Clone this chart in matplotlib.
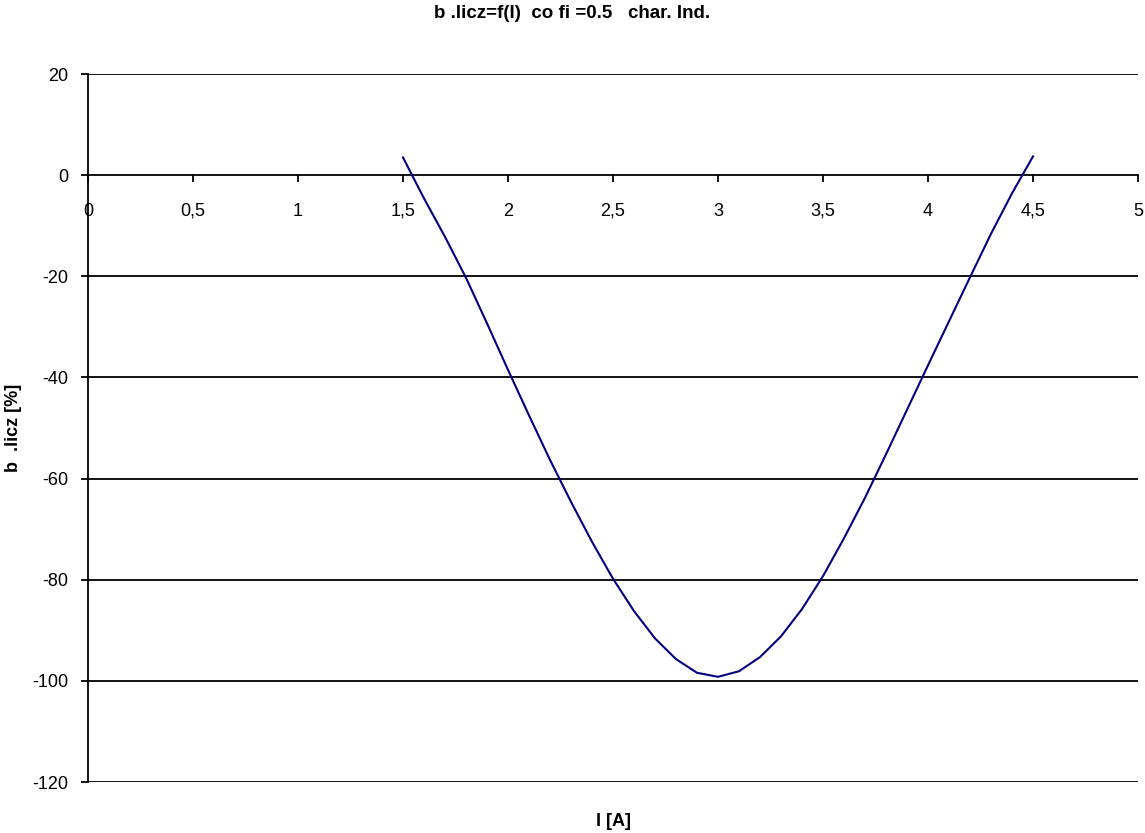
import matplotlib
matplotlib.use("Agg")
import matplotlib.pyplot as plt
from matplotlib.ticker import FixedLocator, FuncFormatter

# Data
current_A = [1.5, 1.6, 1.7, 1.8, 1.9, 2.0, 2.1, 2.2, 2.3, 2.4, 2.5, 2.6, 2.7, 2.8,
             2.9, 3.0, 3.1, 3.2, 3.3, 3.4, 3.5, 3.6, 3.7, 3.8, 3.9, 4.0, 4.1, 4.2,
             4.3, 4.4, 4.5]
b_licz = [3.5, -4.6, -12.2, -20.3, -29.3, -38.5, -47.5, -56.3, -64.6, -72.5, -79.8,
          -86.2, -91.6, -95.7, -98.4, -99.2, -98.1, -95.3, -91.2, -85.8, -79.3,
          -71.8, -63.8, -55.2, -46.4, -37.6, -28.9, -20.2, -11.6, -3.6, 3.7]
x_ticks = [0, 0.5, 1, 1.5, 2, 2.5, 3, 3.5, 4, 4.5, 5]
y_ticks = [20, 0, -20, -40, -60, -80, -100, -120]

title = "b .licz=f(I)  co fi =0.5   char. Ind."
xlabel = "I [A]"
ylabel = "b  .licz [%]"

plt.rcParams['font.family'] = ['Liberation Sans', 'DejaVu Sans']

fig = plt.figure(figsize=(11.45, 8.33), dpi=100)
ax = fig.add_axes([88/1145, 1-782/833, (1138-88)/1145, (782-74)/833])

ax.set_xlim(0, 5)
ax.set_ylim(-120, 20)

for y in y_ticks:
    if y != 0:
        ax.axhline(y, color='black', lw=1.3, zorder=1)

ax.plot(current_A, b_licz, color='#000080', lw=1.5, zorder=3)

for s in ['top', 'right']:
    ax.spines[s].set_visible(False)
ax.spines['bottom'].set_position(('data', 0))
ax.spines['bottom'].set_linewidth(1.3)
ax.spines['left'].set_linewidth(1.3)
ax.spines['bottom'].set_zorder(2)

ax.xaxis.set_major_locator(FixedLocator(x_ticks))
ax.xaxis.set_major_formatter(FuncFormatter(lambda v, p: ('%g' % v).replace('.', ',')))
ax.yaxis.set_major_locator(FixedLocator(y_ticks))
ax.yaxis.set_major_formatter(FuncFormatter(lambda v, p: '%g' % v))

ax.tick_params(axis='x', direction='out', length=5, width=1.3, pad=15, labelsize=13)
ax.tick_params(axis='y', direction='out', length=5, width=1.3, pad=9, labelsize=13)

fig.text(0.5, 1-13/833, title, ha='center', va='center', fontsize=13.5, fontweight='bold')
fig.text(613/1145, 1-821/833, xlabel, ha='center', va='center', fontsize=13, fontweight='bold')
fig.text(13/1145, 1-428/833, ylabel, ha='center', va='center', fontsize=13,
         fontweight='bold', rotation=90)

fig.savefig('out.png', dpi=100)
